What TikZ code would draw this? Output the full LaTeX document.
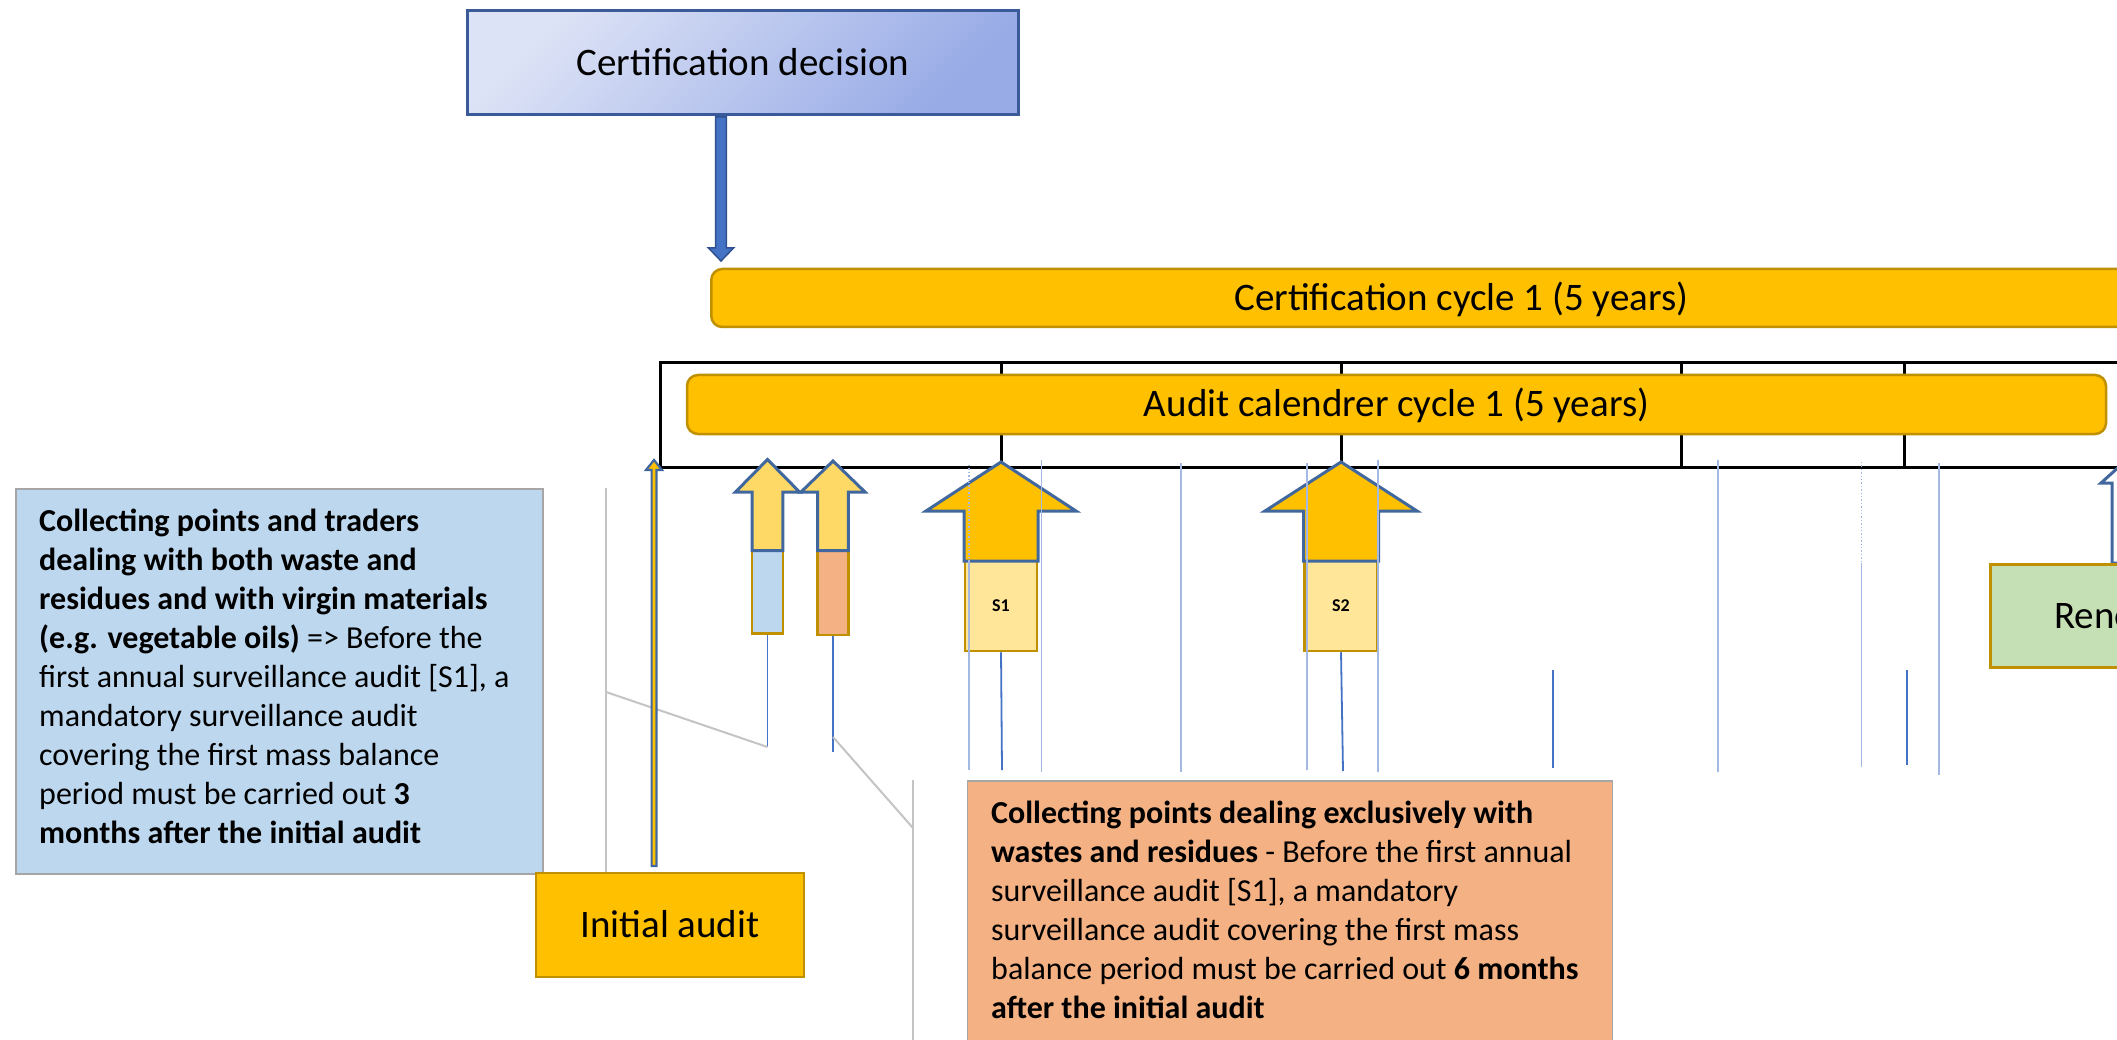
\documentclass[tikz,border=0pt]{standalone}
\usepackage{fontspec}
\setmainfont{Carlito}
\definecolor{gold}{HTML}{FFC000}
\definecolor{goldline}{HTML}{BF9000}
\definecolor{paleyellow}{HTML}{FFD966}
\definecolor{lightyellow}{HTML}{FFE699}
\definecolor{arrowblue}{HTML}{41679F}
\definecolor{midblue}{HTML}{4472C4}
\definecolor{darkblue}{HTML}{2F528F}
\definecolor{faintblue}{HTML}{A3B9E3}
\definecolor{paleblue}{HTML}{BDD7EE}
\definecolor{salmon}{HTML}{F4B183}
\definecolor{palegreen}{HTML}{C5E0B4}
\definecolor{calloutgray}{HTML}{A6A6A6}
\definecolor{leadergray}{HTML}{C4C4C4}
\definecolor{lavtop}{HTML}{DDE3F6}
\definecolor{lavbot}{HTML}{98ABE6}
\definecolor{decborder}{HTML}{3A5A9A}

% block arrow: style, centre x, tip y, head base y, head half width, shaft half width, shaft end y
\newcommand{\blockarrow}[7]{%
  \path[#1] (#2,#3) -- ({#2+#5},#4) -- ({#2+#6},#4) -- ({#2+#6},#7)
    -- ({#2-#6},#7) -- ({#2-#6},#4) -- ({#2-#5},#4) -- cycle;}

\begin{document}
\begin{tikzpicture}[x=1pt, y=-1pt,
  biglabel/.style={font=\fontsize{39}{47}\selectfont, text height=24.5pt, text depth=0pt},
  goldbar/.style={draw=goldline, line width=2.5pt, fill=gold, rounded corners=11pt,
    inner sep=0pt, biglabel},
  goldbox/.style={draw=goldline, line width=2.5pt, inner sep=0pt},
  callout/.style={draw=calloutgray, line width=1.8pt, inner sep=0pt},
  tick/.style={faintblue, line width=1.4pt},
  tickdot/.style={tick, dotted},
  stem/.style={midblue, line width=1.8pt},
  leader/.style={leadergray, line width=2pt},
  gridline/.style={black, line width=3pt},
  smallarrow/.style={draw=arrowblue, line width=3pt, fill=paleyellow, line join=miter},
  bigarrow/.style={draw=arrowblue, line width=3pt, fill=gold, line join=miter},
  notetext/.style={anchor=base west, inner sep=0pt, font=\fontsize{32}{39}\selectfont},
]
\useasboundingbox (0,0) rectangle (2117,1040);
\clip (0,0) rectangle (2117,1040);
\fill[white] (0,0) rectangle (2117,1040);

% certification decision and its arrow
\node[draw=decborder, line width=3pt, top color=lavtop, bottom color=lavbot, shading angle=45,
  minimum width=551pt, minimum height=104pt, inner sep=0pt, biglabel]
  (dec) at (743,63) {Certification decision};
\blockarrow{fill=midblue, draw=darkblue, line width=1.5pt, line join=miter}{721}{261}{248}{12.5}{5.4}{117}

% certification cycle bar
\node[goldbar, minimum width=1500pt, minimum height=58pt, anchor=west]
  (cyc) at (710,298) {Certification cycle 1 (5 years)};

% audit calendar table
\draw[gridline] (2130,363) -- (660.5,363) -- (660.5,467) -- (2130,467);
\foreach \gx in {1001,1341.5,1681,1904}
  \draw[gridline] (\gx,363) -- (\gx,467);
\node[goldbar, minimum width=1419pt, minimum height=59pt]
  (acal) at (1396.5,404.5) {Audit calendrer cycle 1 (5 years)};

% extra surveillance audits
\node[goldbox, fill=paleblue, minimum width=30.7pt, minimum height=82.6pt] (r1) at (767.5,592) {};
\blockarrow{smallarrow}{767.5}{459.5}{492}{32}{15.4}{550.7}
\node[goldbox, fill=salmon, minimum width=30.6pt, minimum height=84pt] (r2) at (833,593) {};
\blockarrow{smallarrow}{833}{461}{492}{32}{15.3}{550.7}

% annual surveillance audits
\node[goldbox, fill=lightyellow, minimum width=72pt, minimum height=90pt,
  font=\bfseries\fontsize{18}{20}\selectfont] (s1) at (1001,606) {S1};
\blockarrow{bigarrow}{1001}{462}{511}{75}{37}{561}
\node[goldbox, fill=lightyellow, minimum width=73pt, minimum height=90pt,
  font=\bfseries\fontsize{18}{20}\selectfont] (s2) at (1341,606) {S2};
\blockarrow{bigarrow}{1341}{462}{511}{76}{37.5}{561}

% time ticks
\draw[tickdot] (969,465) -- (969,562);
\draw[tick] (969,562) -- (969,770);
\draw[tick] (1041.5,460) -- (1041.5,772);
\draw[tick] (1181,463) -- (1181,772);
\draw[tick] (1307,463) -- (1307,770);
\draw[tick] (1378,460) -- (1378,772);
\draw[tick] (1718,460) -- (1718,772);
\draw[tickdot] (1861.5,462) -- (1861.5,563);
\draw[tick] (1861.5,563) -- (1861.5,767);
\draw[tick] (1939,463) -- (1939,775);

% audit stems
\coordinate (r1end) at (767.5,747);
\coordinate (r2end) at (833,752);
\draw[stem] (r1.south) -- (r1end);
\draw[stem] (r2.south) -- (r2end);
\draw[stem] (s1.south) -- (1002,770);
\draw[stem] (s2.south) -- (1343,771);
\draw[stem] (1553,670) -- (1553,768);
\draw[stem] (1907,670) -- (1907,765);

% callout: mixed materials
\node[callout, fill=paleblue, minimum width=527pt, minimum height=385pt, anchor=north west]
  (bluenote) at (14.7,487.7) {};
\node[notetext] (bluetext) at (39,531) {\begin{tabular}[t]{@{}l@{}}
\textbf{Collecting points and traders}\\
\textbf{dealing with both waste and}\\
\textbf{residues and with virgin materials}\\
\textbf{(e.g. vegetable oils)} => Before the\\
first annual surveillance audit [S1], a\\
mandatory surveillance audit\\
covering the first mass balance\\
period must be carried out \textbf{3}\\
\textbf{months after the initial audit}
\end{tabular}};
\coordinate (bluebar) at (606,692);
\draw[leader] (606,488) -- (606,873);
\draw[leader] (bluebar) -- (r1end);

% callout: wastes and residues only
\node[callout, fill=salmon, minimum width=645pt, minimum height=290pt, anchor=north west]
  (orangenote) at (966.6,780) {};
\node[notetext] (orangetext) at (991,823) {\begin{tabular}[t]{@{}l@{}}
\textbf{Collecting points dealing exclusively with}\\
\textbf{wastes and residues} - Before the first annual\\
surveillance audit [S1], a mandatory\\
surveillance audit covering the first mass\\
balance period must be carried out \textbf{6 months}\\
\textbf{after the initial audit}
\end{tabular}};
\coordinate (orangebar) at (913,828);
\coordinate (r2mid) at (833,737);
\draw[leader] (913,780) -- (913,1045);
\draw[leader] (r2mid) -- (orangebar);

% initial audit
\blockarrow{fill=gold, draw=arrowblue, line width=2.2pt, line join=miter}{654}{460}{470}{8}{2.4}{866}
\node[goldbox, fill=gold, minimum width=268pt, minimum height=104pt, biglabel]
  (init) at (670,925) {Initial audit};

% renewal
\blockarrow{fill=white, draw=arrowblue, line width=3pt, line join=miter}{2122}{464}{483}{21}{10}{563}
\node[goldbox, fill=palegreen, minimum width=240pt, minimum height=103pt, anchor=north west]
  (ren) at (1989,563) {};
\node[biglabel, anchor=west, inner sep=0pt] (rentext) at (2054,616) {Renewal audit};
\end{tikzpicture}
\end{document}
